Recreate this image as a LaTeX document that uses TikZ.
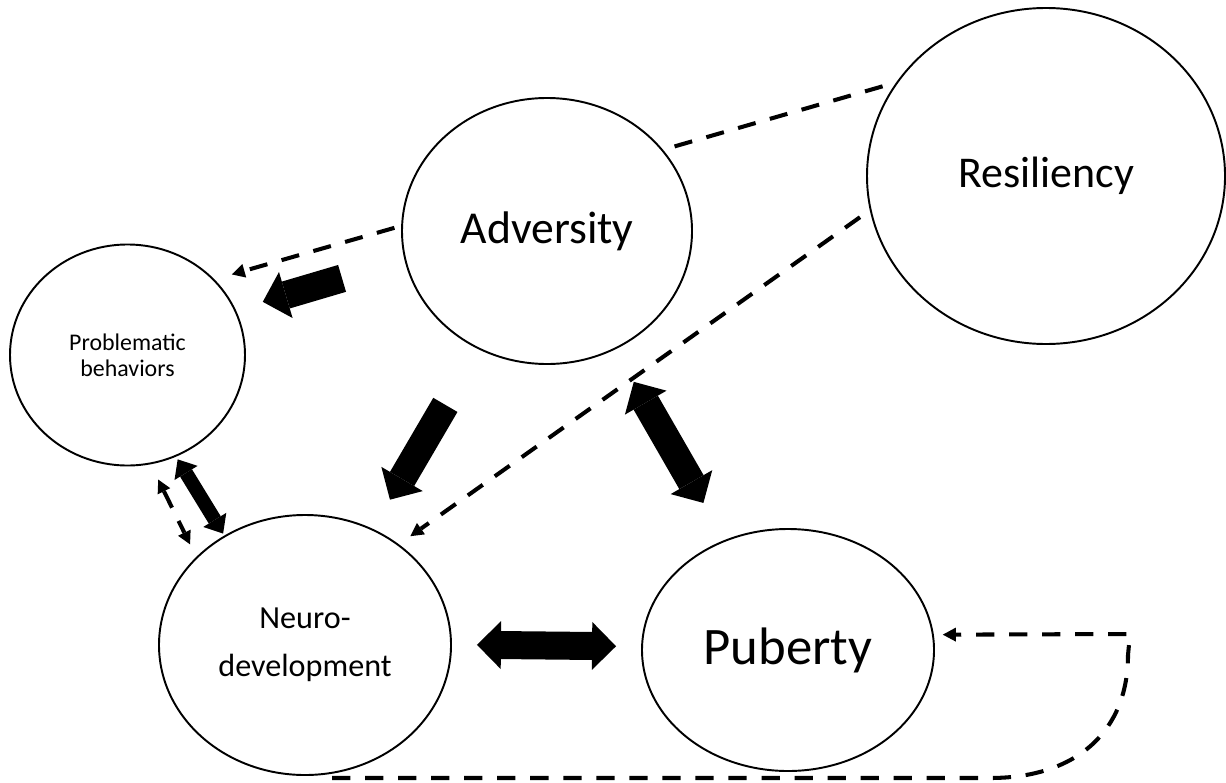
\documentclass[tikz,border=0pt]{standalone}
\usepackage{fontspec}
\setmainfont{Carlito}
\usetikzlibrary{shapes.geometric,arrows.meta,calc}

\begin{document}
\begin{tikzpicture}[x=0.2mm,y=-0.2mm,
    bubble/.style={draw,ellipse,line width=1.1pt,inner sep=0pt,align=center},
    bighead/.tip={Triangle[length=0.48cm,width=0.96cm,line width'=0pt]},
    smallhead/.tip={Triangle[length=0.32cm,width=0.54cm,line width'=0pt]},
    dashhead/.tip={Triangle[length=2.6mm,width=2.8mm,line width'=0pt]},
    bigarrow/.style={line width=0.56cm,-bighead},
    bigboth/.style={line width=0.56cm,bighead-bighead},
    smallboth/.style={line width=0.28cm,smallhead-smallhead},
    dashline/.style={line width=2.3pt,dash pattern=on 10.4pt off 8.4pt},
    dasharrow/.style={dashline,-dashhead},
    dashboth/.style={dashline,dashhead-dashhead}]
  \useasboundingbox (0,0) rectangle (1226,782);

  % Circles
  \node[bubble, minimum width=5.8cm, minimum height=5.32cm, font=\fontsize{26}{31}\selectfont] (adv) at (547,231) {Adversity};
  \node[bubble, minimum width=7.16cm, minimum height=6.72cm, font=\fontsize{25}{30}\selectfont] (res) at (1046,176) {Resiliency};
  \node[bubble, minimum width=4.7cm, minimum height=4.42cm, font=\fontsize{13.6}{14.8}\selectfont] (prob) at (127.5,355) {Problematic\\behaviors};
  \node[bubble, minimum width=5.84cm, minimum height=5.2cm, font=\fontsize{18.3}{27.3}\selectfont] (nd) at (305,645) {Neuro-\\development};
  \node[bubble, minimum width=5.84cm, minimum height=4.84cm, font=\fontsize{30}{36}\selectfont] (pub) at (788,650) {Puberty};

  % Thick arrows
  \draw[bigarrow] ($(adv)!0.479!(prob)+(-4,-12)$) -- ($(adv)!0.668!(prob)+(-4,-12)$);
  \draw[bigarrow] ($(adv)!0.42!(nd)$) -- ($(adv)!0.649!(nd)$);
  \draw[bigboth] ($(adv)!0.36!(pub)$) -- ($(adv)!0.649!(pub)$);
  \draw[bigboth] ($(nd)!0.356!(pub)+(0,-2)$) -- ($(nd)!0.644!(pub)+(0,-2)$);
  \draw[smallboth] ($(prob)!0.339!(nd)+(-10,6)$) -- ($(prob)!0.595!(nd)+(-10,6)$);

  % Dashed arrows
  \draw[dashline, shorten <=2.4mm, shorten >=2.4mm] (adv.35.5) -- (res.148);
  \draw[dasharrow, shorten <=2.4mm, shorten >=2.8mm] (res.191) -- (nd.47.4);
  \draw[dasharrow, shorten <=1.4mm, shorten >=3.6mm] (adv.178.5) -- (prob.41);
  \draw[dashboth, shorten <=3.4mm, shorten >=2.8mm] (prob.282.9) -- (nd.141);

  % Loop back to puberty
  \coordinate (loopstart) at (332,778);
  \coordinate (loopturn) at (1130,634);
  \draw[dasharrow, shorten >=1.8mm] (loopstart) -- (990,778)
      .. controls (1078,778) and (1128,730) .. (1128,655) -- (loopturn) -- (pub.6);
\end{tikzpicture}
\end{document}
